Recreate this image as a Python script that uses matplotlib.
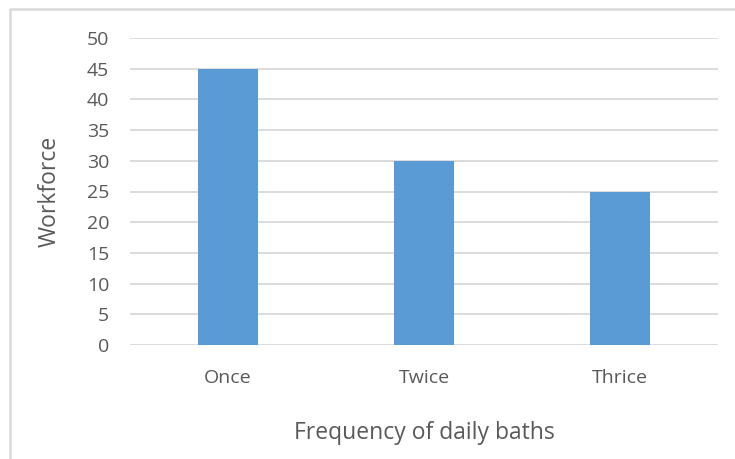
import matplotlib.pyplot as plt
from matplotlib.lines import Line2D

categories = ['Once', 'Twice', 'Thrice']
workforce = [45, 30, 25]
yticks = [0, 5, 10, 15, 20, 25, 30, 35, 40, 45, 50]

plt.rcParams['font.family'] = ['Open Sans', 'DejaVu Sans']
text_color = '#595959'
grid_color = '#d9d9d9'

fig = plt.figure(figsize=(7.35, 4.59), dpi=100)
ax = fig.add_axes([130 / 735, 1 - 345 / 459, 588 / 735, 307 / 459])

x = range(len(categories))
ax.bar(x, workforce, width=0.31, color='#5b9bd5', zorder=3)

ax.set_xlim(-0.5, len(categories) - 0.5)
ax.set_ylim(0, 50)
ax.set_yticks(yticks)
ax.set_xticks(list(x))
ax.set_xticklabels(categories)
ax.grid(axis='y', color=grid_color, linewidth=1.3, zorder=0)
for s in ax.spines.values():
    s.set_visible(False)
ax.tick_params(axis='both', length=0, labelsize=14, labelcolor=text_color)
ax.tick_params(axis='y', pad=15)
ax.tick_params(axis='x', pad=17)

ax.set_xlabel('Frequency of daily baths', fontsize=16.5, color=text_color, labelpad=25)
ax.set_ylabel('Workforce', fontsize=16.5, color=text_color, labelpad=18)

# chart frame (left and top edges)
fx = 9.5 / 735
fy = 1 - 8.5 / 459
fig.add_artist(Line2D([fx, fx, 1], [0, fy, fy], transform=fig.transFigure,
                      color=grid_color, linewidth=1.8))

fig.savefig('out.png', dpi=100)
